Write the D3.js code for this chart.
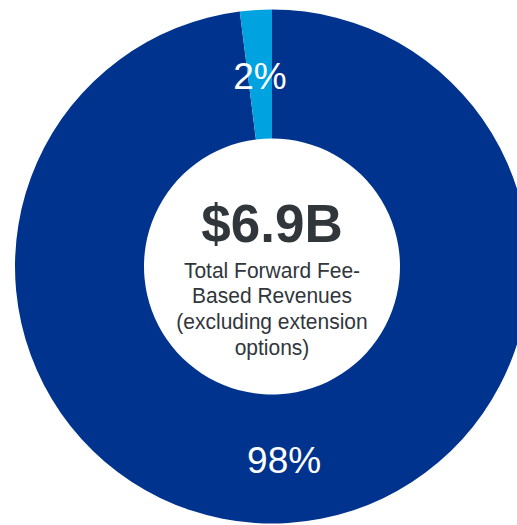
<!DOCTYPE html>
<html>
<head>
<meta charset="utf-8">
<script src="https://cdn.jsdelivr.net/npm/d3@7"></script>
<style>
  html, body { margin: 0; padding: 0; background: #fff; }
  svg { display: block; }
</style>
</head>
<body>
<svg id="chart" width="517" height="525"></svg>
<script>
const categories = ["Fee-based", "Other"];
const values = [98, 2];
const labels = ["98%", "2%"];
const colors = ["#00338D", "#00A3E0"];
const centerTitle = "$6.9B";
const centerLines = ["Total Forward Fee-", "Based Revenues", "(excluding extension", "options)"];

const svg = d3.select("#chart");
const cx = 272, cy = 266.5, rOuter = 257, rInner = 128;
const g = svg.append("g").attr("transform", `translate(${cx},${cy})`);

const pie = d3.pie().sort(null).value(d => d.value);
const data = categories.map((c, i) => ({ cat: c, value: values[i], label: labels[i], color: colors[i] }));
const arcs = pie(data);
const arc = d3.arc().innerRadius(rInner).outerRadius(rOuter);

g.selectAll("path.slice").data(arcs).enter().append("path")
  .attr("class", "slice")
  .attr("d", arc)
  .attr("fill", d => d.data.color);

g.selectAll("text.lbl").data(arcs).enter().append("text")
  .attr("class", "lbl")
  .attr("transform", d => { const c = arc.centroid(d); return `translate(${c[0]},${c[1]})`; })
  .attr("dy", "0.4em")
  .attr("text-anchor", "middle")
  .attr("fill", "#fff")
  .attr("font-family", "Liberation Sans, Arial, sans-serif")
  .attr("font-size", 37)
  .text(d => d.data.label);

g.append("text")
  .attr("x", 0).attr("y", 241.7 - cy)
  .attr("text-anchor", "middle")
  .attr("fill", "#31363b")
  .attr("font-family", "Liberation Sans, Arial, sans-serif")
  .attr("font-weight", "bold")
  .attr("font-size", 53)
  .text(centerTitle);

g.selectAll("text.sub").data(centerLines).enter().append("text")
  .attr("class", "sub")
  .attr("transform", (d, i) => `translate(0,${277.7 - cy + i * 25.6}) scale(1,1.08)`)
  .attr("text-anchor", "middle")
  .attr("fill", "#31363b")
  .attr("font-family", "Liberation Sans, Arial, sans-serif")
  .attr("font-size", 21)
  .text(d => d);
</script>
</body>
</html>
